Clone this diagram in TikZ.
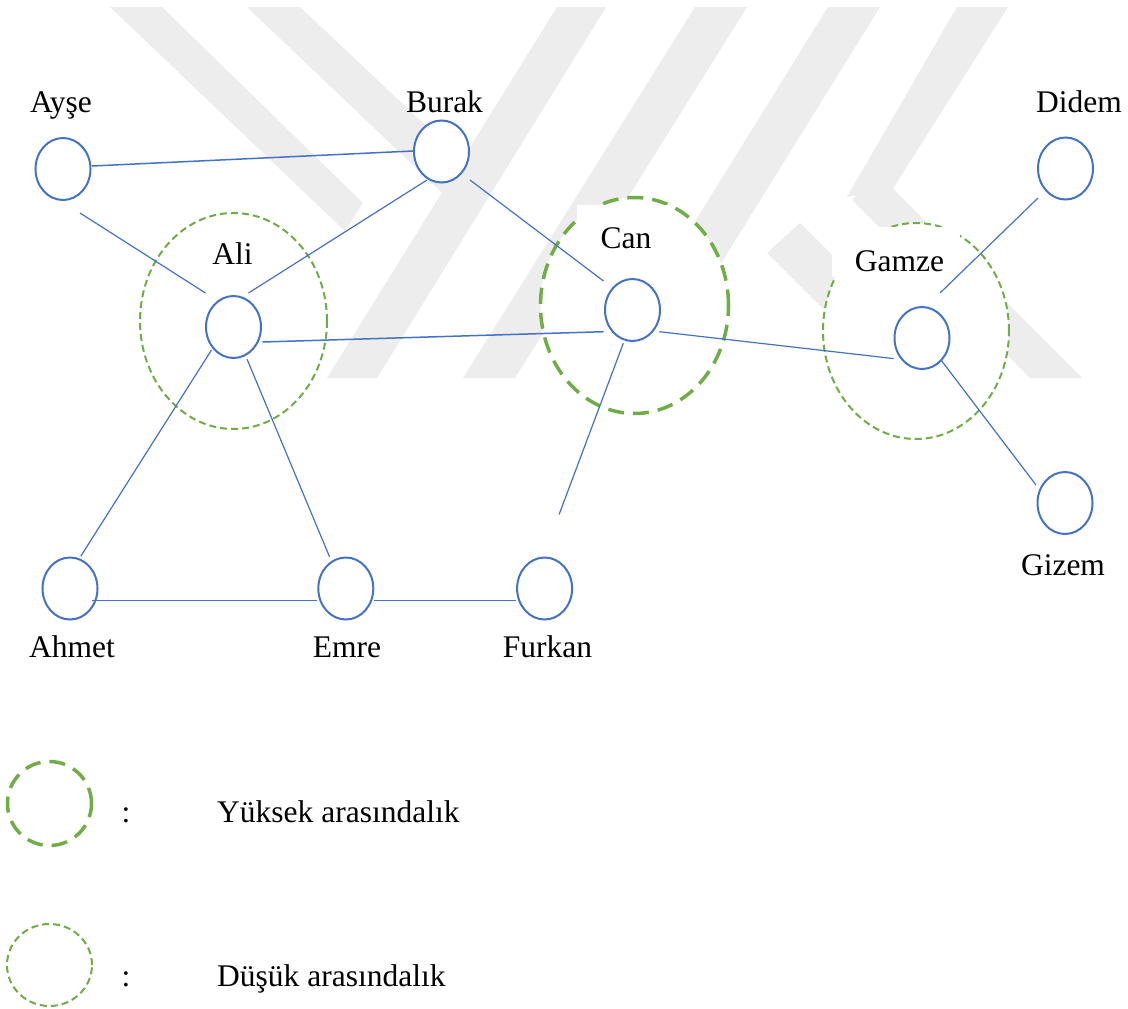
\documentclass[tikz,border=0pt]{standalone}
\usepackage{fontspec}
\setmainfont{Liberation Serif}
\usetikzlibrary{shapes.geometric,calc}
\definecolor{nodeblue}{HTML}{4472C4}
\definecolor{dashgreen}{HTML}{70AD47}
\definecolor{wmgrey}{RGB}{237,237,237}
\begin{document}
\begin{tikzpicture}[x=1pt,y=-1pt,
  person/.style={ellipse, draw=nodeblue, line width=2pt, fill=white,
    minimum width=55pt, minimum height=62pt, inner sep=0pt},
  lowbtw/.style={ellipse, draw=dashgreen, line width=2pt,
    dash pattern=on 7pt off 4pt, fill=white, inner sep=0pt},
  highbtw/.style={ellipse, draw=dashgreen, line width=3.5pt,
    dash pattern=on 16pt off 9pt, fill=white, inner sep=0pt},
  link/.style={draw=nodeblue, line width=1.2pt},
  boldlink/.style={draw=nodeblue, line width=1.5pt},
  lbl/.style={anchor=base, inner sep=0pt, font=\fontsize{31.5}{38}\selectfont},
  wm/.style={fill=wmgrey}]
\useasboundingbox (0,0) rectangle (1128,1009);
\fill[white] (0,0) rectangle (1128,1009);

% faint watermark
\fill[wm] (110,7) -- (162,7) -- (363,203) -- (345,231) -- cycle;
\fill[wm] (247,7) -- (300,7) -- (475,172) -- (455,205) -- cycle;
\fill[wm] (557,7) -- (606,7) -- (377,378) -- (327,378) -- cycle;
\fill[wm] (695,7) -- (747,7) -- (515,378) -- (463,378) -- cycle;
\fill[wm] (828,7) -- (880,7) -- (650,378) -- (598,378) -- cycle;
\fill[wm] (957,7) -- (1008,7) -- (892,190) -- (847,197) -- cycle;
\fill[wm] (879,175) -- (1082,378) -- (1030,378) -- (852,200) -- cycle;
\fill[wm] (800,223) -- (955,378) -- (892,378) -- (767,253) -- cycle;

% betweenness zones
\node[lowbtw, minimum width=187pt, minimum height=216pt] (alizone) at (233.5,321) {};
\node[highbtw, minimum width=188pt, minimum height=216pt] (canzone) at (634.5,305.5) {};
\node[lowbtw, minimum width=186pt, minimum height=216pt] (gamzezone) at (916,331) {};

% white label boxes
\fill[white] (577,205) rectangle (667,254);
\fill[white] (832,227) rectangle (960,277);

% people
\node[person] (ayse) at (63,169) {};
\node[person] (burak) at (441.5,151.5) {};
\node[person] (ali) at (233.5,327) {};
\node[person] (can) at (632.5,310) {};
\node[person] (gamze) at (922,338) {};
\node[person] (didem) at (1065.5,168.5) {};
\node[person] (gizem) at (1065,503) {};
\node[person] (ahmet) at (70,588.5) {};
\node[person] (emre) at (345.8,588.5) {};
\node[person] (furkan) at (544.6,588.5) {};

% connectors
\draw[boldlink] ($(ayse)+(29,-3)$) -- ($(burak)+(-28.5,-0.5)$);
\draw[link] ($(ayse)+(17,44)$) -- ($(ali)+(-28,-34)$);
\draw[link] ($(burak)+(-14.5,28.5)$) -- ($(ali)+(15,-34)$);
\draw[link] ($(burak)+(28.5,28.5)$) -- ($(can)+(-29,-29)$);
\draw[boldlink] ($(ali)+(29,15)$) -- ($(can)+(-28.8,21.7)$);
\draw[link] ($(can)+(26.8,21.7)$) -- ($(gamze)+(-28.3,20.6)$);
\draw[link] ($(can)+(-9.2,33.3)$) -- ($(furkan)+(14.5,-74)$);
\draw[link] ($(gamze)+(18,-45)$) -- ($(didem)+(-27.6,29.6)$);
\draw[link] ($(gamze)+(18.7,21.6)$) -- ($(gizem)+(-29,-18)$);
\draw[link] ($(ali)+(-22,23)$) -- ($(ahmet)+(10.8,-32.3)$);
\draw[link] ($(ali)+(13.6,32.3)$) -- ($(emre)+(-16.2,-31.6)$);
\draw[boldlink] ($(ahmet)+(22,12)$) -- ($(emre)+(-28.8,12)$);
\draw[boldlink] ($(emre)+(28.2,12)$) -- ($(furkan)+(-28.6,12)$);

% labels
\node[lbl] (aysel) at (61,112) {Ayşe};
\node[lbl] (burakl) at (444.5,112) {Burak};
\node[lbl] (ideml) at (1079,112) {Didem};
\node[lbl] (alil) at (232.5,264.5) {Ali};
\node[lbl] (canl) at (626,248) {Can};
\node[lbl] (gamzel) at (899.5,271) {Gamze};
\node[lbl] (ahmetl) at (72,657) {Ahmet};
\node[lbl] (emrel) at (347,657) {Emre};
\node[lbl] (furkanl) at (547.5,657) {Furkan};
\node[lbl] (gizeml) at (1063,575) {Gizem};

% legend
\node[highbtw, minimum width=84pt, minimum height=84pt] (keyhigh) at (49.5,803.5) {};
\node[lowbtw, minimum width=85pt, minimum height=82pt] (keylow) at (49.5,965) {};
\node[lbl] (colonhigh) at (126,822) {:};
\node[lbl, anchor=base west] (keyhightext) at (217,822) {Yüksek arasındalık};
\node[lbl] (colonlow) at (126,986) {:};
\node[lbl, anchor=base west] (keylowtext) at (217,986) {Düşük arasındalık};
\end{tikzpicture}
\end{document}
